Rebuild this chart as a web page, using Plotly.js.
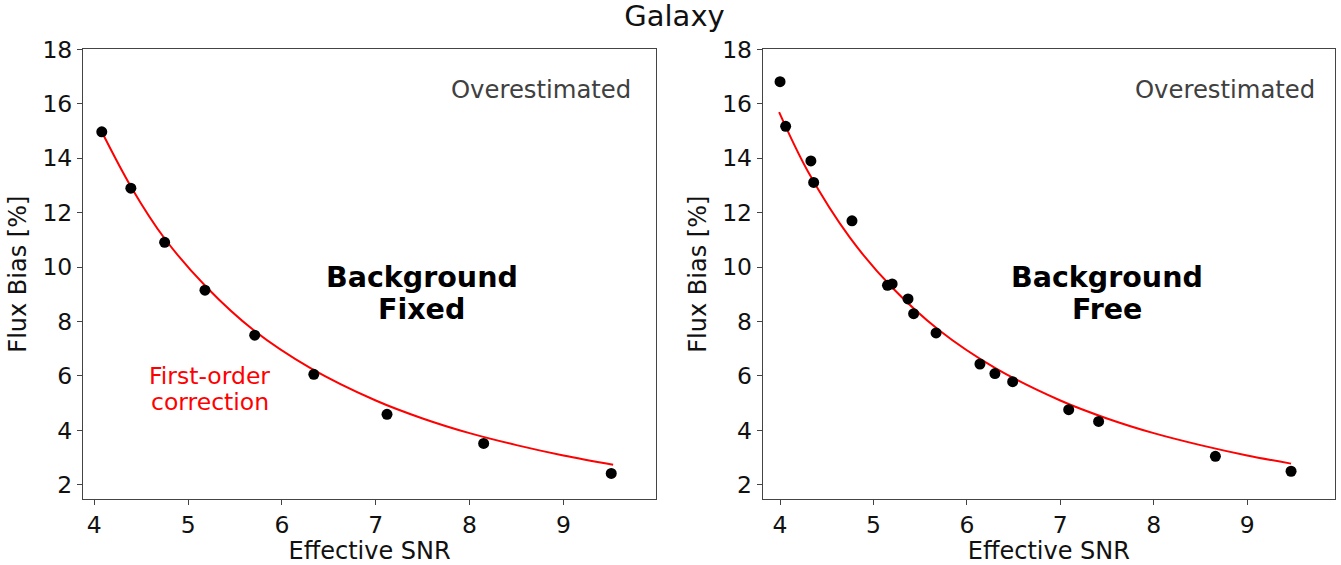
<!DOCTYPE html>
<html>
<head>
<meta charset="utf-8">
<script src="https://cdn.plot.ly/plotly-3.0.1.min.js"></script>
<style>html,body{margin:0;padding:0;background:#fff;}#chart{width:1341px;height:565px;}</style>
</head>
<body>
<div id="chart"></div>
<script>
// Left panel: Background Fixed
const fixedSNR  = [4.08, 4.39, 4.75, 5.18, 5.71, 6.34, 7.12, 8.15, 9.51];
const fixedBias = [14.97, 12.9, 10.91, 9.15, 7.5, 6.06, 4.59, 3.52, 2.42];
const fixedFitSNR  = [4.08, 4.4, 4.75, 5.2, 5.7, 6.3, 7.0, 7.5, 8.0, 8.5, 9.0, 9.53];
const fixedFitBias = [14.97, 12.9, 11.05, 9.25, 7.68, 6.3, 5.1, 4.44, 3.9, 3.46, 3.08, 2.74];

// Right panel: Background Free
const freeSNR  = [4.0, 4.06, 4.33, 4.36, 4.77, 5.15, 5.20, 5.37, 5.43, 5.67, 6.14, 6.30, 6.49, 7.09, 7.41, 8.66, 9.47];
const freeBias = [16.81, 15.17, 13.9, 13.11, 11.70, 9.33, 9.38, 8.83, 8.29, 7.58, 6.44, 6.09, 5.79, 4.76, 4.33, 3.05, 2.50];
const freeFitSNR  = [3.99, 4.3, 4.75, 5.2, 5.7, 6.3, 7.0, 7.5, 8.0, 8.5, 9.0, 9.47];
const freeFitBias = [15.69, 13.5, 11.07, 9.25, 7.69, 6.3, 5.1, 4.44, 3.9, 3.46, 3.08, 2.78];

const xTicks = [4, 5, 6, 7, 8, 9];
const yTicks = [2, 4, 6, 8, 10, 12, 14, 16, 18];

const FONT = 'DejaVu Sans, sans-serif';
const axisBase = {
  showgrid: false, zeroline: false, showline: true, mirror: true,
  linecolor: '#444', linewidth: 1, ticks: 'outside', ticklen: 5, tickcolor: '#444', tickwidth: 1,
  tickfont: {family: FONT, size: 23.5, color: '#111'}
};
const labelFont = {family: FONT, size: 24, color: '#111'};
const boldFont = {family: FONT, size: 28.5, color: '#000'};
const redFont = {family: FONT, size: 23.5, color: 'red'};
const grayFont = {family: FONT, size: 24.3, color: '#404040'};

const traces = [
  {x: fixedFitSNR, y: fixedFitBias, mode: 'lines', line: {color: 'red', width: 2, shape: 'spline'}, xaxis: 'x', yaxis: 'y', hoverinfo: 'skip'},
  {x: fixedSNR, y: fixedBias, mode: 'markers', marker: {color: 'black', size: 11}, xaxis: 'x', yaxis: 'y'},
  {x: freeFitSNR, y: freeFitBias, mode: 'lines', line: {color: 'red', width: 2, shape: 'spline'}, xaxis: 'x2', yaxis: 'y2', hoverinfo: 'skip'},
  {x: freeSNR, y: freeBias, mode: 'markers', marker: {color: 'black', size: 11}, xaxis: 'x2', yaxis: 'y2'}
];

const layout = {
  width: 1341, height: 565,
  margin: {l: 0, r: 0, t: 0, b: 0},
  paper_bgcolor: '#fff', plot_bgcolor: '#fff',
  showlegend: false,
  title: {text: 'Galaxy', font: {family: FONT, size: 29, color: '#111'}, x: 0.503, xanchor: 'center', y: 0.99, yanchor: 'top'},
  xaxis: Object.assign({}, axisBase, {domain: [0.0619, 0.4894], range: [3.88, 9.99], tickvals: xTicks, anchor: 'y',
    title: {text: 'Effective SNR', font: labelFont, standoff: 10}}),
  yaxis: Object.assign({}, axisBase, {domain: [0.1168, 0.9127], range: [1.48, 18], tickvals: yTicks, anchor: 'x',
    title: {text: 'Flux Bias [%]', font: labelFont, standoff: 8}}),
  xaxis2: Object.assign({}, axisBase, {domain: [0.5688, 0.9955], range: [3.815, 9.94], tickvals: xTicks, anchor: 'y2',
    title: {text: 'Effective SNR', font: labelFont, standoff: 10}}),
  yaxis2: Object.assign({}, axisBase, {domain: [0.1168, 0.9127], range: [1.48, 18], tickvals: yTicks, anchor: 'x2',
    title: {text: 'Flux Bias [%]', font: labelFont, standoff: 8}}),
  annotations: [
    {xref: 'x', yref: 'y', x: 7.49, y: 9.63, text: '<b>Background</b>', showarrow: false, font: boldFont},
    {xref: 'x', yref: 'y', x: 7.49, y: 8.45, text: '<b>Fixed</b>', showarrow: false, font: boldFont},
    {xref: 'x2', yref: 'y2', x: 7.50, y: 9.63, text: '<b>Background</b>', showarrow: false, font: boldFont},
    {xref: 'x2', yref: 'y2', x: 7.50, y: 8.45, text: '<b>Free</b>', showarrow: false, font: boldFont},
    {xref: 'x', yref: 'y', x: 9.74, y: 16.54, text: 'Overestimated', showarrow: false, xanchor: 'right', font: grayFont},
    {xref: 'x2', yref: 'y2', x: 9.75, y: 16.54, text: 'Overestimated', showarrow: false, xanchor: 'right', font: grayFont},
    {xref: 'x', yref: 'y', x: 5.23, y: 5.99, text: 'First-order', showarrow: false, font: redFont},
    {xref: 'x', yref: 'y', x: 5.23, y: 5.04, text: 'correction', showarrow: false, font: redFont}
  ]
};

Plotly.newPlot('chart', traces, layout, {displayModeBar: false, staticPlot: true});
</script>
</body>
</html>
